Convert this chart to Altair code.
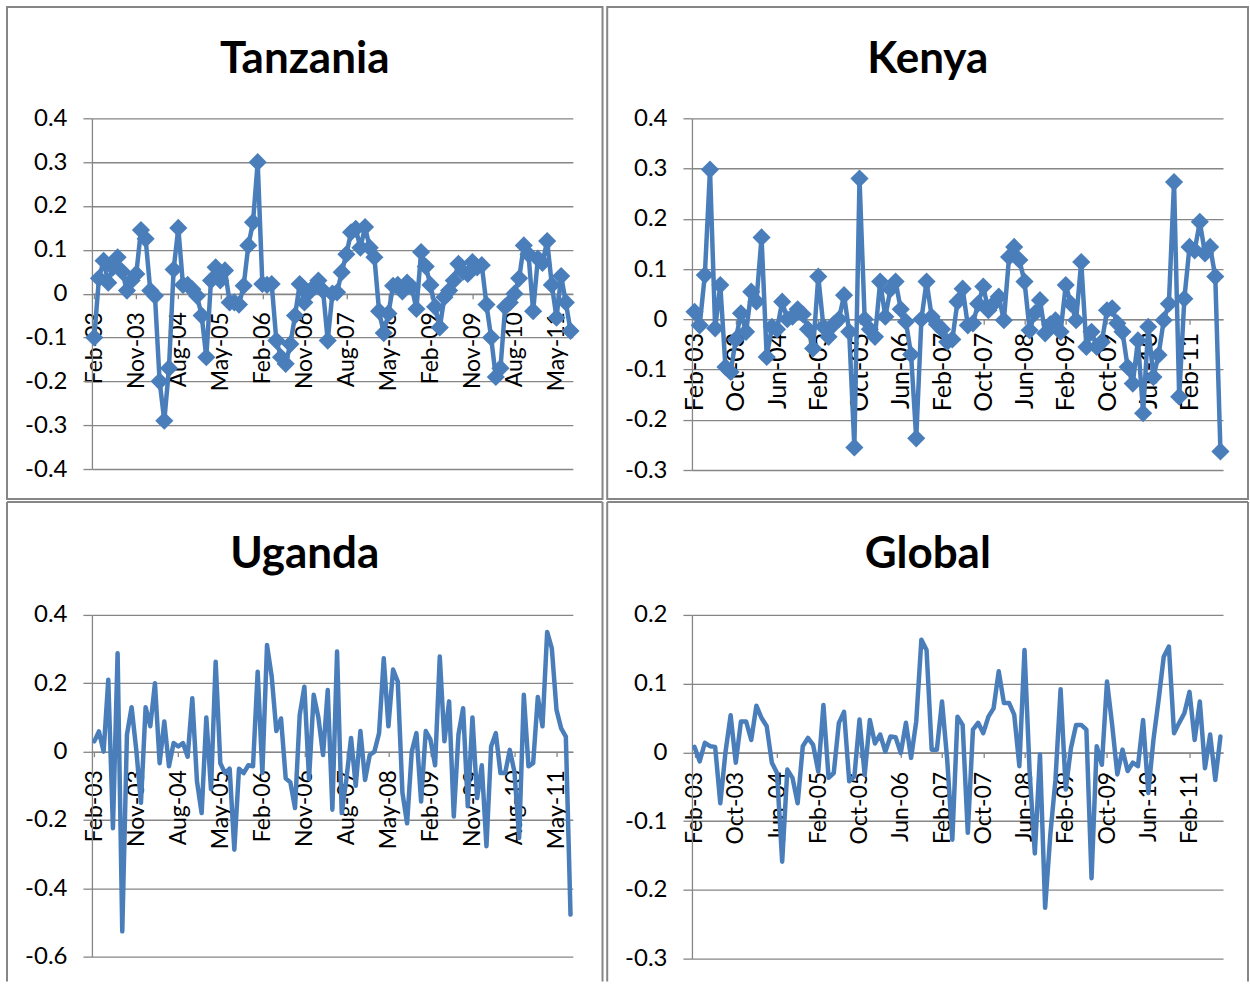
import altair as alt
import pandas as pd

FONT = "Lato"
LINE_BLUE = "#4a7ebb"
GREY = "#868686"

# Monthly categories, Feb-03 .. Aug-11
MONTH_NAMES = ["Jan", "Feb", "Mar", "Apr", "May", "Jun",
               "Jul", "Aug", "Sep", "Oct", "Nov", "Dec"]
MONTHS = [f"{MONTH_NAMES[(1 + k) % 12]}-{3 + (1 + k) // 12:02d}" for k in range(103)]

# Labelled categories on the horizontal axes
TICKS_9 = ["Feb-03", "Nov-03", "Aug-04", "May-05", "Feb-06", "Nov-06", "Aug-07",
           "May-08", "Feb-09", "Nov-09", "Aug-10", "May-11"]
TICKS_8 = ["Feb-03", "Oct-03", "Jun-04", "Feb-05", "Oct-05", "Jun-06", "Feb-07",
           "Oct-07", "Jun-08", "Feb-09", "Oct-09", "Jun-10", "Feb-11"]

# Vertical axis tick values
Y_TZ = [-0.4, -0.3, -0.2, -0.1, 0, 0.1, 0.2, 0.3, 0.4]
Y_KE = [-0.3, -0.2, -0.1, 0, 0.1, 0.2, 0.3, 0.4]
Y_UG = [-0.6, -0.4, -0.2, 0, 0.2, 0.4]
Y_GL = [-0.3, -0.2, -0.1, 0, 0.1, 0.2]

tanzania = [
    -0.100, 0.035, 0.075, 0.025, 0.060, 0.083, 0.050, 0.007, 0.030, 0.045,
    0.145, 0.125, 0.007, -0.005, -0.200, -0.290, -0.170, 0.055, 0.150, 0.020,
    0.020, 0.010, -0.005, -0.050, -0.145, 0.030, 0.060, 0.030, 0.053, -0.020,
    -0.020, -0.025, 0.018, 0.110, 0.163, 0.300, 0.022, 0.020, 0.022, -0.107,
    -0.145, -0.160, -0.115, -0.050, 0.022, -0.020, 0.003, 0.015, 0.030, 0.007,
    -0.107, 0.000, 0.003, 0.049, 0.090, 0.140, 0.148, 0.105, 0.152, 0.105,
    0.083, -0.040, -0.090, -0.045, 0.018, 0.020, 0.005, 0.025, 0.015, -0.035,
    0.095, 0.062, 0.020, -0.030, -0.077, -0.008, 0.007, 0.030, 0.068, 0.050,
    0.045, 0.072, 0.060, 0.065, -0.025, -0.100, -0.190, -0.170, -0.030, -0.020,
    0.000, 0.035, 0.110, 0.090, -0.040, 0.080, 0.070, 0.120, 0.020, -0.055,
    0.040, -0.020, -0.085,
]

kenya = [
    0.015, -0.012, 0.088, 0.298, -0.018, 0.068, -0.095, -0.105, -0.040, 0.012,
    -0.025, 0.055, 0.035, 0.163, -0.075, -0.015, -0.020, 0.035, 0.000, 0.005,
    0.020, 0.010, -0.020, -0.058, 0.085, -0.015, -0.035, -0.010, 0.000, 0.048,
    -0.025, -0.255, 0.280, 0.000, -0.020, -0.035, 0.075, 0.005, 0.060, 0.075,
    0.020, -0.005, -0.070, -0.237, 0.000, 0.075, 0.005, -0.010, -0.020, -0.045,
    -0.040, 0.035, 0.061, -0.012, -0.008, 0.031, 0.065, 0.018, 0.031, 0.045,
    -0.002, 0.124, 0.144, 0.118, 0.075, -0.022, 0.012, 0.038, -0.028, -0.010,
    -0.002, -0.025, 0.068, 0.031, -0.002, 0.114, -0.055, -0.025, -0.055, -0.045,
    0.018, 0.022, -0.008, -0.025, -0.095, -0.128, -0.042, -0.187, -0.015, -0.115,
    -0.071, -0.002, 0.031, 0.273, -0.154, 0.041, 0.144, 0.137, 0.194, 0.131,
    0.144, 0.085, -0.263,
]

uganda = [
    0.030, 0.059, 0.000, 0.210, -0.224, 0.288, -0.526, 0.050, 0.130, 0.005,
    -0.150, 0.130, 0.074, 0.200, -0.034, 0.088, -0.043, 0.025, 0.015, 0.025,
    -0.015, 0.156, -0.087, -0.180, 0.100, -0.110, 0.263, -0.034, -0.063, -0.050,
    -0.287, -0.050, -0.063, -0.040, -0.043, 0.234, -0.063, 0.312, 0.220, 0.060,
    0.097, -0.078, -0.090, -0.165, 0.107, 0.190, -0.080, 0.166, 0.100, -0.010,
    0.180, -0.170, 0.293, -0.180, -0.080, 0.040, -0.100, 0.060, -0.083, -0.010,
    0.000, 0.054, 0.273, 0.074, 0.240, 0.205, -0.120, -0.210, 0.000, 0.054,
    -0.146, 0.060, 0.035, -0.040, 0.278, 0.030, 0.147, -0.190, 0.050, 0.127,
    -0.160, 0.100, -0.136, -0.040, -0.277, 0.015, 0.054, -0.063, -0.063, 0.005,
    -0.060, -0.253, 0.166, -0.043, -0.034, 0.160, 0.074, 0.350, 0.302, 0.122,
    0.068, 0.044, -0.477,
]

global_ = [
    0.008, -0.013, 0.014, 0.009, 0.008, -0.074, 0.000, 0.054, -0.015, 0.045,
    0.045, 0.018, 0.068, 0.050, 0.038, -0.015, -0.030, -0.159, -0.025, -0.037,
    -0.074, 0.009, 0.021, 0.011, -0.028, 0.069, -0.037, -0.030, 0.043, 0.059,
    -0.042, -0.035, 0.048, -0.033, 0.047, 0.013, 0.026, 0.001, 0.023, 0.022,
    -0.001, 0.043, -0.008, 0.045, 0.164, 0.149, 0.004, 0.004, 0.074, -0.010,
    -0.127, 0.052, 0.040, -0.117, 0.033, 0.043, 0.028, 0.052, 0.064, 0.118,
    0.072, 0.072, 0.055, -0.020, 0.149, -0.030, -0.147, -0.003, -0.226, -0.120,
    -0.040, 0.092, -0.054, 0.006, 0.040, 0.040, 0.033, -0.183, 0.009, -0.018,
    0.103, 0.040, -0.032, 0.004, -0.027, -0.015, -0.020, 0.047, -0.059, 0.018,
    0.076, 0.139, 0.154, 0.028, 0.043, 0.057, 0.088, 0.018, 0.074, -0.023,
    0.026, -0.040, 0.023,
]

ONE_ROW = pd.DataFrame({"k": [0]})


def frame_box(x1, x2, y1, y2):
    return alt.Chart(ONE_ROW).mark_rect(fillOpacity=0, stroke=GREY, strokeWidth=2).encode(
        x=alt.value(x1), x2=alt.value(x2), y=alt.value(y1), y2=alt.value(y2))


def frame_open(x1, x2, y1, y2):
    rule = alt.Chart(ONE_ROW).mark_rule(color=GREY, strokeWidth=2)
    return [
        rule.encode(x=alt.value(x1), y=alt.value(y1), y2=alt.value(y2)),
        rule.encode(x=alt.value(x2), y=alt.value(y1), y2=alt.value(y2)),
        rule.encode(x=alt.value(x1), x2=alt.value(x2), y=alt.value(y1)),
    ]


def panel(name, values, y_domain, y_ticks, x_ticks, width, height, frame, title_xy,
          diamonds=False, x_label_size=23, x_label_pad=13, extra=()):
    data = pd.DataFrame({"month": MONTHS, "value": values})
    lo, hi = y_domain
    zero_up = height * (0 - lo) / (hi - lo)
    x = alt.X(
        "month:O", sort=MONTHS, scale=alt.Scale(type="point", padding=0.5),
        axis=alt.Axis(values=x_ticks, title=None, labelAngle=270, labelAlign="right",
                      labelBaseline="middle", labelFont=FONT, labelFontSize=x_label_size,
                      labelColor="black", labelPadding=x_label_pad, labelOverlap=False,
                      tickSize=5, tickColor=GREY, tickWidth=1.3,
                      domainColor=GREY, domainWidth=1.3, offset=-zero_up, grid=False))
    y = alt.Y(
        "value:Q", scale=alt.Scale(domain=list(y_domain), nice=False, zero=False),
        axis=alt.Axis(values=y_ticks, title=None, labelExpr="datum.value + ''",
                      labelFont=FONT, labelFontSize=24, labelColor="black", labelPadding=16,
                      tickSize=9, tickColor=GREY, tickWidth=1.3,
                      domainColor=GREY, domainWidth=1.3,
                      grid=True, gridColor=GREY, gridWidth=1.3))
    base = alt.Chart(data).encode(x=x, y=y)
    layers = list(extra)
    layers += frame if isinstance(frame, list) else [frame]
    layers.append(
        alt.Chart(pd.DataFrame({"t": [name]})).mark_text(
            font=FONT, fontSize=44, fontWeight="bold", color="black",
            align="center", baseline="alphabetic"
        ).encode(text="t:N", x=alt.value(title_xy[0]), y=alt.value(title_xy[1])))
    layers.append(base.mark_line(color=LINE_BLUE, strokeWidth=4.5, strokeJoin="round",
                                 strokeCap="round"))
    if diamonds:
        layers.append(base.mark_point(shape="diamond", filled=True, size=330,
                                      color=LINE_BLUE, opacity=1))
    return alt.layer(*layers).properties(width=width, height=height)


# Transparent sheet fixing the full canvas extent around the first panel
canvas = alt.Chart(ONE_ROW).mark_rect(opacity=0).encode(
    x=alt.value(-91.7), x2=alt.value(1158.3), y=alt.value(-118), y2=alt.value(866))

tz = panel("Tanzania", tanzania, (-0.4, 0.4), Y_TZ, TICKS_9, 481.3, 351,
           frame_box(-85, 511, -111.3, 381), (213, -45.7), diamonds=True,
           x_label_pad=13, extra=[canvas])
ke = panel("Kenya", kenya, (-0.3, 0.4), Y_KE, TICKS_8, 531.5, 352,
           frame_box(-84.8, 556.5, -111.3, 381), (236, -45.7), diamonds=True,
           x_label_size=25, x_label_pad=8)
ug = panel("Uganda", uganda, (-0.6, 0.4), Y_UG, TICKS_9, 481.3, 342,
           frame_open(-85, 511, -113, 367), (213, -47), x_label_pad=13)
gl = panel("Global", global_, (-0.3, 0.2), Y_GL, TICKS_8, 531.5, 344,
           frame_open(-84.8, 556.5, -113, 367), (236, -47), x_label_pad=14)

chart = alt.concat(
    tz, ke, ug, gl, columns=2, spacing={"row": 145, "column": 118.5}, bounds="flush"
).properties(padding=0, background="white").configure_view(stroke=None)

chart.save("out.html", embed_options={"renderer": "svg", "actions": False})
